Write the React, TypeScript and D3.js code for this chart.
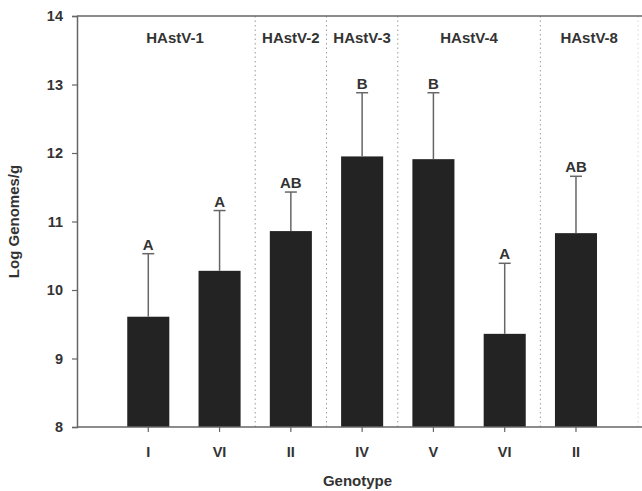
import React, { useEffect, useRef } from 'react';
import * as d3 from 'd3';

// genotype categories along the x axis
const genotypes = ['I', 'VI', 'II', 'IV', 'V', 'VI', 'II'];
// mean log genomes/g
const means = [9.61, 10.28, 10.86, 11.95, 11.91, 9.36, 10.83];
// upper error bar ends
const errTops = [10.53, 11.16, 11.43, 12.88, 12.88, 10.39, 11.66];
// significance letters
const letters = ['A', 'A', 'AB', 'B', 'B', 'A', 'AB'];
// serotype groups: label and index range of genotypes they cover
const groupNames = ['HAstV-1', 'HAstV-2', 'HAstV-3', 'HAstV-4', 'HAstV-8'];
const groupStart = [0, 2, 3, 4, 6];
const groupEnd = [1, 2, 3, 5, 6];
const yTicks = [8, 9, 10, 11, 12, 13, 14];

const W = 642,
  H = 491;
const left = 77,
  right = 638,
  top = 16,
  bottom = 427;
const FONT = "'Liberation Sans', Arial, sans-serif";

const App = () => {
  const ref = useRef(null);

  const graph = () => {
    const svg = d3.select(ref.current);
    svg.selectAll('*').remove();

    // slot positions: first genotype sits one step right of the axis
    const x = d3.scaleLinear().domain([0, 7.87]).range([left, right]);
    const y = d3.scaleLinear().domain([8, 14]).range([bottom, top]);
    const step = x(1) - x(0);
    const barW = step * 0.59;
    const pos = (i) => x(i + 1);

    // group separators (dotted)
    const bounds = groupEnd.map((e, gi) =>
      gi < groupEnd.length - 1 ? (pos(e) + pos(e + 1)) / 2 : right
    );
    svg
      .append('g')
      .selectAll('line')
      .data(bounds.slice(0, -1))
      .join('line')
      .attr('x1', (d) => d)
      .attr('x2', (d) => d)
      .attr('y1', top)
      .attr('y2', bottom)
      .attr('stroke', '#9a9a9a')
      .attr('stroke-width', 1)
      .attr('stroke-dasharray', '1.5,3');

    // faint right edge
    svg
      .append('line')
      .attr('x1', right)
      .attr('x2', right)
      .attr('y1', top)
      .attr('y2', bottom)
      .attr('stroke', '#d8d8d8')
      .attr('stroke-width', 1)
      .attr('stroke-dasharray', '1.5,3');

    // group labels
    svg
      .append('g')
      .selectAll('text')
      .data(groupNames)
      .join('text')
      .attr('x', (d, gi) => {
        const l = gi === 0 ? pos(groupStart[0]) - step * 0.75 : bounds[gi - 1];
        return (l + bounds[gi]) / 2;
      })
      .attr('y', 43)
      .attr('text-anchor', 'middle')
      .attr('font-family', FONT)
      .attr('font-weight', 'bold')
      .attr('font-size', 15)
      .attr('fill', '#333')
      .text((d) => d);

    // bars
    svg
      .append('g')
      .selectAll('rect')
      .data(means)
      .join('rect')
      .attr('x', (d, i) => pos(i) - barW / 2)
      .attr('width', barW)
      .attr('y', (d) => y(d))
      .attr('height', (d) => y(8) - y(d))
      .attr('fill', '#232323');

    // error bars
    const eb = svg.append('g').attr('stroke', '#666').attr('stroke-width', 1.5);
    eb.selectAll('line.v')
      .data(errTops)
      .join('line')
      .attr('class', 'v')
      .attr('x1', (d, i) => pos(i))
      .attr('x2', (d, i) => pos(i))
      .attr('y1', (d, i) => y(means[i]))
      .attr('y2', (d) => y(d));
    eb.selectAll('line.c')
      .data(errTops)
      .join('line')
      .attr('class', 'c')
      .attr('x1', (d, i) => pos(i) - 6)
      .attr('x2', (d, i) => pos(i) + 6)
      .attr('y1', (d) => y(d))
      .attr('y2', (d) => y(d));

    // significance letters
    svg
      .append('g')
      .selectAll('text')
      .data(letters)
      .join('text')
      .attr('x', (d, i) => pos(i))
      .attr('y', (d, i) => y(errTops[i]) - 4)
      .attr('text-anchor', 'middle')
      .attr('font-family', FONT)
      .attr('font-weight', 'bold')
      .attr('font-size', 15)
      .attr('fill', '#333')
      .text((d) => d);

    // axes
    const yAxis = svg
      .append('g')
      .attr('transform', `translate(${left},0)`)
      .call(d3.axisLeft(y).tickValues(yTicks).tickSize(5).tickPadding(9).tickFormat(d3.format('d')));
    yAxis.select('.domain').attr('stroke', '#666').attr('stroke-width', 1.5);
    yAxis.selectAll('.tick line').attr('stroke', '#666').attr('stroke-width', 1.2);
    yAxis
      .selectAll('.tick text')
      .attr('font-family', FONT)
      .attr('font-weight', 'bold')
      .attr('font-size', 14.5)
      .attr('fill', '#333');

    const xAxis = svg.append('g').attr('transform', `translate(0,${bottom})`);
    xAxis
      .append('line')
      .attr('x1', left)
      .attr('x2', W)
      .attr('stroke', '#666')
      .attr('stroke-width', 1.5);
    xAxis
      .selectAll('line.t')
      .data(genotypes)
      .join('line')
      .attr('class', 't')
      .attr('x1', (d, i) => pos(i))
      .attr('x2', (d, i) => pos(i))
      .attr('y1', 0)
      .attr('y2', 5)
      .attr('stroke', '#666')
      .attr('stroke-width', 1.2);
    xAxis
      .selectAll('text')
      .data(genotypes)
      .join('text')
      .attr('x', (d, i) => pos(i))
      .attr('y', 30)
      .attr('text-anchor', 'middle')
      .attr('font-family', FONT)
      .attr('font-weight', 'bold')
      .attr('font-size', 14.5)
      .attr('fill', '#333')
      .text((d) => d);

    // top frame line
    svg
      .append('line')
      .attr('x1', left)
      .attr('x2', W)
      .attr('y1', top)
      .attr('y2', top)
      .attr('stroke', '#666')
      .attr('stroke-width', 1.5);

    // axis titles
    svg
      .append('text')
      .attr('transform', `translate(19,${(top + bottom) / 2}) rotate(-90)`)
      .attr('text-anchor', 'middle')
      .attr('font-family', FONT)
      .attr('font-weight', 'bold')
      .attr('font-size', 15)
      .attr('fill', '#333')
      .text('Log Genomes/g');
    svg
      .append('text')
      .attr('x', (left + right) / 2)
      .attr('y', 486)
      .attr('text-anchor', 'middle')
      .attr('font-family', FONT)
      .attr('font-weight', 'bold')
      .attr('font-size', 15)
      .attr('fill', '#333')
      .text('Genotype');
  };

  // eslint-disable-next-line
  useEffect(() => graph(), []);
  return (
    <div style={{ position: 'absolute', left: 0, top: 0 }}>
      <svg ref={ref} width={W} height={H} style={{ display: 'block', background: '#fff' }}></svg>
    </div>
  );
};

export default App;
